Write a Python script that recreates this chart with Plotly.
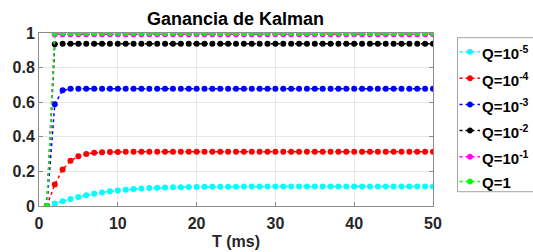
import plotly.graph_objects as go

T = list(range(1, 51))

K_q1e5 = [0, 0.0141, 0.0276, 0.0402, 0.0517, 0.0619, 0.0708, 0.0784, 0.0848, 0.0902,
          0.0946, 0.0982, 0.1011, 0.1034, 0.1053, 0.1068, 0.1080, 0.1090, 0.1097, 0.1103,
          0.1108, 0.1112, 0.1115, 0.1117, 0.1119, 0.1121, 0.1122, 0.1123, 0.1124, 0.1124,
          0.1125, 0.1125, 0.1125, 0.1126, 0.1126, 0.1126, 0.1126, 0.1126, 0.1126, 0.1126,
          0.1126, 0.1126, 0.1126, 0.1126, 0.1126, 0.1126, 0.1126, 0.1126, 0.1126, 0.1126]
K_q1e4 = [0, 0.1250, 0.2113, 0.2615, 0.2879, 0.3011, 0.3075, 0.3105, 0.3119, 0.3126,
          0.3129, 0.3131, 0.3132, 0.3132, 0.3132, 0.3132, 0.3132, 0.3132, 0.3132, 0.3132,
          0.3132, 0.3132, 0.3132, 0.3132, 0.3132, 0.3132, 0.3132, 0.3132, 0.3132, 0.3132,
          0.3132, 0.3132, 0.3132, 0.3132, 0.3132, 0.3132, 0.3132, 0.3132, 0.3132, 0.3132,
          0.3132, 0.3132, 0.3132, 0.3132, 0.3132, 0.3132, 0.3132, 0.3132, 0.3132, 0.3132]
K_q1e3 = [0, 0.5882, 0.6685, 0.6771, 0.6780, 0.6781, 0.6781, 0.6781, 0.6781, 0.6781,
          0.6781, 0.6781, 0.6781, 0.6781, 0.6781, 0.6781, 0.6781, 0.6781, 0.6781, 0.6781,
          0.6781, 0.6781, 0.6781, 0.6781, 0.6781, 0.6781, 0.6781, 0.6781, 0.6781, 0.6781,
          0.6781, 0.6781, 0.6781, 0.6781, 0.6781, 0.6781, 0.6781, 0.6781, 0.6781, 0.6781,
          0.6781, 0.6781, 0.6781, 0.6781, 0.6781, 0.6781, 0.6781, 0.6781, 0.6781, 0.6781]
K_q1e2 = [0, 0.9346, 0.9383, 0.9384, 0.9384, 0.9384, 0.9384, 0.9384, 0.9384, 0.9384,
          0.9384, 0.9384, 0.9384, 0.9384, 0.9384, 0.9384, 0.9384, 0.9384, 0.9384, 0.9384,
          0.9384, 0.9384, 0.9384, 0.9384, 0.9384, 0.9384, 0.9384, 0.9384, 0.9384, 0.9384,
          0.9384, 0.9384, 0.9384, 0.9384, 0.9384, 0.9384, 0.9384, 0.9384, 0.9384, 0.9384,
          0.9384, 0.9384, 0.9384, 0.9384, 0.9384, 0.9384, 0.9384, 0.9384, 0.9384, 0.9384]
K_q1e1 = [0, 0.9930, 0.9932, 0.9932, 0.9932, 0.9932, 0.9932, 0.9932, 0.9932, 0.9932,
          0.9932, 0.9932, 0.9932, 0.9932, 0.9932, 0.9932, 0.9932, 0.9932, 0.9932, 0.9932,
          0.9932, 0.9932, 0.9932, 0.9932, 0.9932, 0.9932, 0.9932, 0.9932, 0.9932, 0.9932,
          0.9932, 0.9932, 0.9932, 0.9932, 0.9932, 0.9932, 0.9932, 0.9932, 0.9932, 0.9932,
          0.9932, 0.9932, 0.9932, 0.9932, 0.9932, 0.9932, 0.9932, 0.9932, 0.9932, 0.9932]
K_q1 = [0, 0.9993, 0.9993, 0.9993, 0.9993, 0.9993, 0.9993, 0.9993, 0.9993, 0.9993,
        0.9993, 0.9993, 0.9993, 0.9993, 0.9993, 0.9993, 0.9993, 0.9993, 0.9993, 0.9993,
        0.9993, 0.9993, 0.9993, 0.9993, 0.9993, 0.9993, 0.9993, 0.9993, 0.9993, 0.9993,
        0.9993, 0.9993, 0.9993, 0.9993, 0.9993, 0.9993, 0.9993, 0.9993, 0.9993, 0.9993,
        0.9993, 0.9993, 0.9993, 0.9993, 0.9993, 0.9993, 0.9993, 0.9993, 0.9993, 0.9993]

series = [K_q1e5, K_q1e4, K_q1e3, K_q1e2, K_q1e1, K_q1]
labels = ["Q=10<sup>-5</sup>", "Q=10<sup>-4</sup>", "Q=10<sup>-3</sup>",
          "Q=10<sup>-2</sup>", "Q=10<sup>-1</sup>", "Q=1"]
colors = ["#00FFFF", "#FF0000", "#0000FF", "#000000", "#FF00FF", "#00FF00"]

x_ticks = [0, 10, 20, 30, 40, 50]
y_ticks = [0, 0.2, 0.4, 0.6, 0.8, 1]

W, H = 533, 252
L, R, TOP, BOT = 39, 100, 33, 46
pw, ph = W - L - R, H - TOP - BOT

def px(p):
    return (p - L) / pw

def py(p):
    return (H - BOT - p) / ph

FONT = "Liberation Sans, Arial, Helvetica, sans-serif"
AXC = "#8c8c8c"

fig = go.Figure()
for ys, lab, c in zip(series, labels, colors):
    fig.add_trace(go.Scatter(
        x=T, y=ys, name=lab, mode="lines+markers",
        line=dict(color=c, width=1.5, dash="dot"),
        marker=dict(color=c, size=6, symbol="circle"),
        showlegend=False,
    ))

axis_common = dict(
    showline=True, linecolor=AXC, linewidth=1, mirror="ticks",
    ticks="inside", ticklen=4, tickcolor=AXC, tickwidth=1,
    showgrid=True, gridcolor="#e8e8e8", gridwidth=1, zeroline=False,
    automargin=False,
    tickfont=dict(family=FONT, size=16, color="#262626", weight="bold"),
)

fig.update_layout(
    width=W, height=H,
    margin=dict(l=L, r=R, t=TOP, b=BOT, pad=0),
    paper_bgcolor="white", plot_bgcolor="white",
    title=dict(text="<b>Ganancia de Kalman</b>", xref="container", x=235.5 / W,
               xanchor="center", y=1 - 19 / H, yanchor="middle",
               font=dict(family=FONT, size=18, color="black")),
    xaxis=dict(range=[0, 50], tickvals=x_ticks, ticktext=[str(v) for v in x_ticks],
               ticklabelstandoff=3,
               title=dict(text="<b>T (ms)</b>", standoff=4,
                          font=dict(family=FONT, size=16, color="#262626")),
               **axis_common),
    yaxis=dict(range=[0, 1], tickvals=y_ticks, ticktext=["0", "0.2", "0.4", "0.6", "0.8", "1"],
               **axis_common),
    showlegend=False,
)

# manual legend (MATLAB style)
entry_y = [51.7, 78.3, 104.5, 130.5, 156.7, 181.5]
fig.add_shape(type="rect", xref="paper", yref="paper",
              x0=px(457.5), x1=px(545), y0=py(191.7), y1=py(37.7),
              line=dict(color="#a6a6a6", width=1), fillcolor="white", layer="above")
for yy, lab, c in zip(entry_y, labels, colors):
    fig.add_shape(type="line", xref="paper", yref="paper",
                  x0=px(459.5), x1=px(480), y0=py(yy), y1=py(yy),
                  line=dict(color=c, width=1.5, dash="dot"), layer="above")
    fig.add_shape(type="circle", xref="paper", yref="paper",
                  x0=px(467.3), x1=px(472.7), y0=py(yy + 2.7), y1=py(yy - 2.7),
                  line=dict(color=c, width=0.5), fillcolor=c, layer="above")
    fig.add_annotation(xref="paper", yref="paper", x=px(480.5), y=py(yy + 1),
                       xanchor="left", yanchor="middle", showarrow=False,
                       text="<b>" + lab + "</b>",
                       font=dict(family=FONT, size=15, color="black"))

fig.write_html("out.html", config={"displayModeBar": False},
               post_script="document.body.style.margin='0';document.body.style.overflow='hidden';")
